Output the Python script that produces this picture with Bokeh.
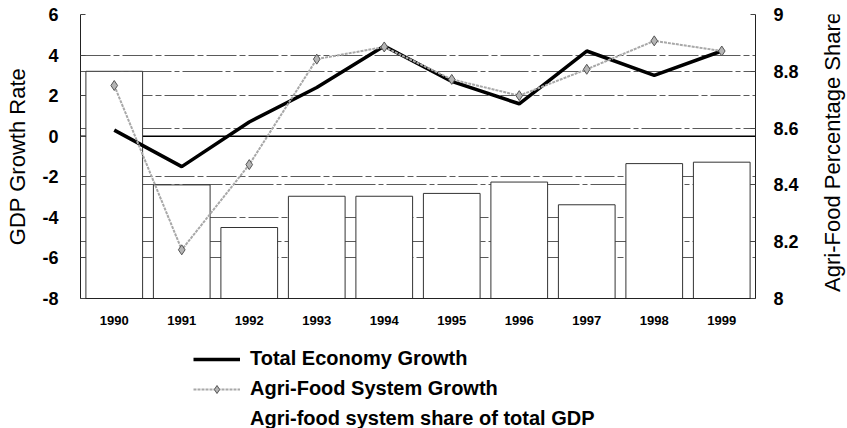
from bokeh.plotting import figure
from bokeh.layouts import column, row
from bokeh.models import (Range1d, LinearAxis, FixedTicker, Grid, Span, Legend,
                          LegendItem, FactorRange)
from bokeh.core.properties import value
from bokeh.embed import file_html
from bokeh.resources import INLINE

years = ["1990", "1991", "1992", "1993", "1994", "1995", "1996", "1997", "1998", "1999"]
total_growth = [0.3, -1.5, 0.7, 2.4, 4.45, 2.7, 1.6, 4.2, 3.0, 4.2]
agri_growth = [2.5, -5.6, -1.4, 3.8, 4.4, 2.8, 2.0, 3.3, 4.7, 4.2]
agri_share = [8.80, 8.40, 8.25, 8.36, 8.36, 8.37, 8.41, 8.33, 8.475, 8.48]
left_ticks = [-8, -6, -4, -2, 0, 2, 4, 6]
left_labels = {-8: "-8", -6: "-6", -4: "-4", -2: "-2", 0: "0", 2: "2", 4: "4", 6: "6"}
right_ticks = [8, 8.2, 8.4, 8.6, 8.8, 9]
right_labels = {8: "8", 8.2: "8.2", 8.4: "8.4", 8.6: "8.6", 8.8: "8.8", 9: "9"}
legend_labels = ["Total Economy Growth", "Agri-Food System Growth",
                 "Agri-food system share of total GDP"]
left_title = "GDP Growth Rate"
right_title = "Agri-Food Percentage Share"

FONT = "Liberation Sans"
GRID = "#5a5a5a"
MAIN_W = 817

p = figure(x_range=FactorRange(*years), y_range=Range1d(-8, 6),
           width=MAIN_W, height=332, output_backend="svg", toolbar_location=None,
           min_border_left=80, min_border_right=62, min_border_top=14,
           min_border_bottom=34)
p.extra_y_ranges = {"share": Range1d(8, 9)}
p.outline_line_color = None
p.xgrid.grid_line_color = None

# left axis
p.yaxis.ticker = FixedTicker(ticks=left_ticks)
p.yaxis.major_label_overrides = left_labels
p.yaxis.axis_label = left_title
p.yaxis.axis_label_text_font = FONT
p.yaxis.axis_label_text_font_style = "normal"
p.yaxis.axis_label_text_font_size = "22px"
p.yaxis.axis_label_text_color = "black"
p.yaxis.axis_label_standoff = 9
p.yaxis.major_label_text_font = FONT
p.yaxis.major_label_text_font_style = "bold"
p.yaxis.major_label_text_font_size = "18px"
p.yaxis.major_label_text_color = "black"
p.yaxis.major_label_standoff = 22
p.yaxis.major_tick_in = 5
p.yaxis.major_tick_out = 0
p.yaxis.minor_tick_line_color = None
p.yaxis.axis_line_color = "#222222"
p.yaxis.major_tick_line_color = "#444444"

p.ygrid.ticker = FixedTicker(ticks=left_ticks)
p.ygrid.grid_line_color = GRID
p.ygrid.grid_line_width = 1
p.ygrid.grid_line_dash = "30 3 6 3"

# right axis
rax = LinearAxis(y_range_name="share", ticker=FixedTicker(ticks=right_ticks))
rax.major_label_overrides = right_labels
rax.major_label_text_font = FONT
rax.major_label_text_font_style = "bold"
rax.major_label_text_font_size = "18px"
rax.major_label_text_color = "black"
rax.major_label_standoff = 18
rax.major_tick_in = 5
rax.major_tick_out = 0
rax.minor_tick_line_color = None
rax.axis_line_color = "#222222"
rax.major_tick_line_color = "#444444"
p.add_layout(rax, "right")

rgrid = Grid(dimension=1, ticker=FixedTicker(ticks=right_ticks), y_range_name="share",
             grid_line_color=GRID, grid_line_width=1, grid_line_dash="40 3 5 3")
p.add_layout(rgrid)

zero = Span(location=0, dimension="width", line_color="black", line_width=1.5,
            level="underlay")
p.add_layout(zero)

# x axis
p.xaxis.major_label_text_font = FONT
p.xaxis.major_label_text_font_style = "bold"
p.xaxis.major_label_text_font_size = "13px"
p.xaxis.major_label_text_color = "black"
p.xaxis.major_label_standoff = 11
p.xaxis.major_tick_line_color = None
p.xaxis.axis_line_color = "#222222"

# bars (right axis)
p.vbar(x=years, top=agri_share, bottom=8, width=0.84, y_range_name="share",
       fill_color="white", line_color="#333333", line_width=1)

# lines (left axis)
BLACK_STYLE = dict(line_color="black", line_width=3.5)
GRAY_STYLE = dict(line_color="#a8a8a8", line_width=2, line_dash="3 1")
MARK_STYLE = dict(marker="diamond", size=10, fill_color="#b5b5b5",
                  line_color="#555555", line_width=1)
p.line(years, total_growth, **BLACK_STYLE)
p.line(years, agri_growth, **GRAY_STYLE)
p.scatter(years, agri_growth, **MARK_STYLE)

# legend panel (second figure below); its renderers sit outside the visible range
q = figure(width=MAIN_W, height=96, x_range=Range1d(0, 1), y_range=Range1d(0, 1),
           output_backend="svg", toolbar_location=None, min_border=0,
           x_axis_location=None, y_axis_location=None)
q.grid.visible = False
q.outline_line_color = None
hidden_x = [5, 6]
hidden_y = [5, 6]
r1 = q.line(hidden_x, hidden_y, **BLACK_STYLE)
r2 = q.line(hidden_x, hidden_y, **GRAY_STYLE)
r3 = q.scatter(hidden_x, hidden_y, **MARK_STYLE)
r4 = q.vbar(x=hidden_x, top=hidden_y, width=0.5, fill_color=None, line_color=None)

legend = Legend(items=[
    LegendItem(label=legend_labels[0], renderers=[r1]),
    LegendItem(label=legend_labels[1], renderers=[r2, r3]),
    LegendItem(label=legend_labels[2], renderers=[r4]),
], location=(113, -2))
legend.label_text_font = FONT
legend.label_text_font_style = "bold"
legend.label_text_font_size = "20px"
legend.label_text_color = "black"
legend.glyph_width = 47
legend.glyph_height = 20
legend.label_height = 20
legend.label_standoff = 10
legend.spacing = 7
legend.padding = 0
legend.margin = 0
legend.border_line_color = None
legend.background_fill_alpha = 0
q.add_layout(legend)

# right-hand title strip (reads bottom to top)
t = figure(width=30, height=332, x_range=Range1d(0, 1), y_range=Range1d(0, 1),
           output_backend="svg", toolbar_location=None, min_border_left=0,
           min_border_right=0, min_border_top=14, min_border_bottom=34,
           x_axis_location=None, y_axis_location=None)
t.grid.visible = False
t.outline_line_color = None
t.text(x=[0.5], y=[0.516], text=[right_title], angle=90, angle_units="deg",
       text_align="center", text_baseline="middle", text_font=value(FONT),
       text_font_size=value("22px"), text_color="black")

layout = row(column(p, q, spacing=0), t, spacing=0)
open("out.html", "w").write(file_html(layout, INLINE))
